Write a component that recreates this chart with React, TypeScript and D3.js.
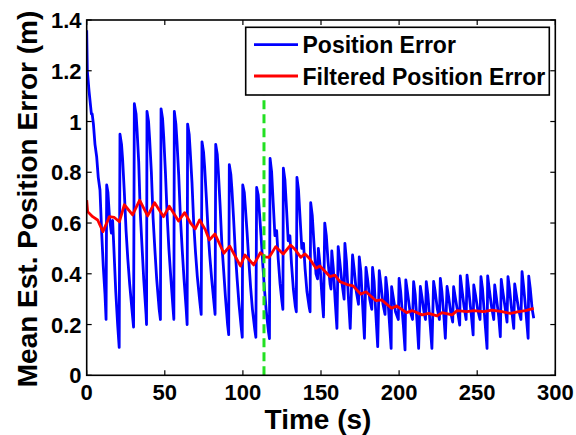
import React from "react";
import * as d3 from "d3";

// ---- data ----
const xTicks = [0, 50, 100, 150, 200, 250, 300];
const yTicks = [0, 0.2, 0.4, 0.6, 0.8, 1.0, 1.2, 1.4];
const yTickLabels = ["0", "0.2", "0.4", "0.6", "0.8", "1", "1.2", "1.4"];
const markerTime = 113.5;
const seriesNames = ["Position Error", "Filtered Position Error"];

// Position error vertices [time (s), error (m)]
const positionError: [number, number][] = [
  [0, 1.36], [0.4, 1.2], [1.5, 1.12], [3.0, 1.03], [3.5, 1.03], [4.3, 0.99], [5.3, 0.91], [6.4, 0.86], [7.4, 0.78], [8.5, 0.73], [9.6, 0.56], [10.6, 0.43], [11.7, 0.32], [12.4, 0.22],
  [12.8, 0.75], [13.6, 0.72], [14.6, 0.62], [15.8, 0.56], [16.6, 0.61], [17.4, 0.5], [18.6, 0.33], [19.8, 0.2], [20.8, 0.11],
  [21.3, 0.95], [22.3, 0.91], [23.0, 0.85], [24.1, 0.72], [25.2, 0.57], [26.3, 0.46], [27.5, 0.36], [29.1, 0.25], [30.0, 0.19],
  [30.5, 1.07], [31.6, 1.03], [32.2, 0.97], [33.3, 0.84], [34.3, 0.64], [35.4, 0.51], [36.5, 0.38], [38.0, 0.24], [38.3, 0.2],
  [38.6, 1.04], [39.6, 1.0], [40.3, 0.93], [41.4, 0.8], [42.5, 0.62], [43.6, 0.5], [44.8, 0.38], [46.4, 0.26], [47.2, 0.22],
  [47.6, 1.05], [48.6, 1.01], [49.3, 0.94], [50.4, 0.8], [51.5, 0.63], [52.6, 0.5], [53.8, 0.39], [55.2, 0.27], [55.8, 0.22],
  [56.1, 1.04], [57.1, 0.99], [57.8, 0.92], [58.9, 0.79], [60.0, 0.62], [61.1, 0.5], [62.3, 0.38], [63.7, 0.26], [64.3, 0.2],
  [64.6, 0.99], [65.6, 0.95], [66.3, 0.88], [67.4, 0.76], [68.5, 0.6], [69.6, 0.49], [70.8, 0.39], [72.4, 0.29], [73.3, 0.24],
  [73.8, 0.92], [74.8, 0.88], [75.5, 0.82], [76.6, 0.7], [77.7, 0.57], [78.8, 0.47], [80.0, 0.38], [81.4, 0.29], [82.2, 0.24],
  [82.6, 0.91], [83.6, 0.87], [84.3, 0.8], [85.4, 0.67], [86.5, 0.52], [87.6, 0.42], [88.8, 0.31], [90.2, 0.2], [90.9, 0.16],
  [91.3, 0.83], [92.3, 0.79], [93.0, 0.73], [94.1, 0.61], [95.2, 0.48], [96.3, 0.38], [97.5, 0.28], [98.9, 0.19], [99.6, 0.15],
  [99.9, 0.75], [100.9, 0.72], [101.6, 0.66], [102.7, 0.56], [103.8, 0.45], [104.9, 0.35], [106.1, 0.26], [107.6, 0.18], [108.3, 0.15],
  [108.8, 0.74], [109.8, 0.71], [110.5, 0.65], [111.6, 0.55], [112.7, 0.44], [113.8, 0.34], [115.0, 0.25], [116.4, 0.17], [117.0, 0.145],
  [117.4, 0.855], [118.4, 0.8], [119.4, 0.68], [120.5, 0.55], [121.6, 0.57], [122.6, 0.46], [123.8, 0.36], [125.0, 0.29], [125.6, 0.26],
  [125.9, 0.816], [126.9, 0.77], [127.9, 0.66], [129.0, 0.53], [130.1, 0.55], [131.1, 0.44], [132.3, 0.34], [133.6, 0.27], [134.2, 0.25],
  [134.6, 0.78], [135.6, 0.73], [136.6, 0.62], [137.7, 0.5], [138.8, 0.52], [139.8, 0.42], [141.0, 0.33], [142.4, 0.27], [143.0, 0.25],
  [143.4, 0.68], [144.4, 0.63], [145.5, 0.52], [146.8, 0.4], [147.8, 0.38], [148.3, 0.5], [149.3, 0.44], [150.5, 0.32], [151.6, 0.23],
  [152.4, 0.6], [153.4, 0.55], [154.5, 0.45], [155.8, 0.36], [156.4, 0.34], [156.9, 0.49], [157.9, 0.42], [159.1, 0.29], [160.2, 0.185],
  [161.0, 0.507], [162.0, 0.45], [163.5, 0.36], [164.8, 0.3],
  [165.3, 0.52], [166.3, 0.45], [167.6, 0.3], [168.7, 0.185],
  [170.2, 0.474], [171.2, 0.42], [172.6, 0.33], [174.0, 0.28],
  [174.5, 0.467], [175.5, 0.41], [176.8, 0.26], [177.8, 0.146],
  [178.8, 0.425], [179.8, 0.38], [181.2, 0.3], [182.5, 0.26],
  [183.0, 0.425], [184.0, 0.37], [185.3, 0.22], [186.3, 0.113],
  [187.3, 0.412], [188.3, 0.36], [189.7, 0.28], [191.0, 0.24],
  [191.5, 0.386], [192.5, 0.33], [193.9, 0.2], [194.9, 0.106],
  [195.2, 0.349], [196.2, 0.31], [197.7, 0.25], [199.5, 0.22],
  [200.0, 0.382], [201.0, 0.33], [202.7, 0.2], [203.8, 0.1],
  [204.3, 0.376], [205.3, 0.33], [206.8, 0.26], [208.6, 0.22],
  [209.3, 0.369], [210.3, 0.32], [211.6, 0.2], [212.5, 0.106],
  [213.6, 0.35], [214.6, 0.31], [215.9, 0.25], [216.9, 0.22],
  [217.4, 0.369], [218.4, 0.32], [219.9, 0.2], [221.0, 0.106],
  [222.1, 0.37], [223.1, 0.33], [224.5, 0.26], [225.8, 0.22],
  [226.4, 0.382], [227.4, 0.33], [228.7, 0.23], [229.6, 0.146],
  [230.7, 0.35], [231.7, 0.31], [233.0, 0.25], [234.3, 0.21],
  [234.9, 0.349], [235.9, 0.31], [237.5, 0.25], [238.8, 0.198],
  [239.2, 0.392], [240.2, 0.34], [241.6, 0.27], [242.9, 0.22],
  [243.5, 0.395], [244.5, 0.34], [246.2, 0.24], [247.4, 0.159],
  [247.8, 0.356], [248.8, 0.32], [250.3, 0.26], [251.8, 0.22],
  [252.4, 0.389], [253.4, 0.34], [255.0, 0.21], [256.3, 0.106],
  [256.7, 0.392], [257.7, 0.34], [259.2, 0.27], [260.6, 0.22],
  [261.2, 0.356], [262.2, 0.31], [263.8, 0.23], [264.8, 0.152],
  [265.4, 0.378], [266.4, 0.33], [267.8, 0.27], [269.1, 0.21],
  [269.7, 0.389], [270.7, 0.34], [272.2, 0.25], [273.4, 0.185],
  [274.0, 0.36], [275.0, 0.32], [276.5, 0.26], [278.0, 0.22],
  [278.7, 0.408], [279.7, 0.35], [281.2, 0.25], [282.6, 0.146],
  [283.0, 0.391], [284.0, 0.34], [285.2, 0.26], [286.2, 0.225],
];

// Filtered position error vertices [time (s), error (m)]
const filteredError: [number, number][] = [
  [0, 0.69], [0.6, 0.645], [3.8, 0.625], [7.0, 0.612], [10.4, 0.566], [14.5, 0.625], [17.7, 0.622], [20.9, 0.605],
  [24.1, 0.672], [29.4, 0.632], [33.9, 0.69], [39, 0.628], [43.5, 0.68], [49.2, 0.625], [52.9, 0.666], [58.8, 0.608],
  [62.7, 0.641], [66.5, 0.6], [69.5, 0.577], [72.3, 0.612], [76.1, 0.572], [78.5, 0.533], [82.1, 0.557], [87.8, 0.481],
  [91.6, 0.509], [98.4, 0.431], [101.3, 0.474], [106.9, 0.435], [111.2, 0.483], [114, 0.467], [116.8, 0.465], [121, 0.507],
  [125.8, 0.478], [130.5, 0.513], [133.4, 0.496], [137, 0.465], [139.8, 0.478], [142.5, 0.461], [146.8, 0.422], [149.3, 0.431],
  [155.7, 0.389], [158.9, 0.395], [162.1, 0.369], [167.5, 0.356], [170.6, 0.352], [175.4, 0.32], [178.8, 0.329], [185.2, 0.294],
  [188.8, 0.297], [195.2, 0.264], [198.4, 0.273], [204.8, 0.247], [208.3, 0.255], [214.7, 0.238], [219, 0.244], [224.3, 0.234],
  [227.5, 0.247], [233.9, 0.238], [237.1, 0.255], [243.5, 0.251], [247.8, 0.255], [254.2, 0.251], [259.5, 0.257], [265.9, 0.251],
  [271.2, 0.244], [276.6, 0.251], [280.9, 0.255], [286.2, 0.264],
];

const W = 576;
const H = 435;
const plot = { left: 86.7, right: 555.3, top: 20, bottom: 375.3 };
const FONT = "'Liberation Sans', Arial, Helvetica, sans-serif";

export default function App() {
  const x = d3.scaleLinear().domain([0, 300]).range([plot.left, plot.right]);
  const y = d3.scaleLinear().domain([0, 1.4]).range([plot.bottom, plot.top]);
  const line = d3
    .line<[number, number]>()
    .x((d) => x(d[0]))
    .y((d) => y(d[1]));

  const tickLen = 5;
  const legend = { x: 245.7, y: 27.3, w: 303.6, h: 67.7 };

  return (
    <svg
      width={W}
      height={H}
      viewBox={`0 0 ${W} ${H}`}
      style={{ position: "absolute", left: 0, top: 0, background: "#fff" }}
      fontFamily={FONT}
      fontWeight="bold"
    >
      <rect x={0} y={0} width={W} height={H} fill="#fff" />
      <defs>
        <clipPath id="plotClip">
          <rect x={plot.left} y={plot.top} width={plot.right - plot.left} height={plot.bottom - plot.top} />
        </clipPath>
      </defs>

      <g clipPath="url(#plotClip)">
        <path d={line(positionError) || ""} fill="none" stroke="#0000ff" strokeWidth={2.8} strokeLinejoin="round" />
        <path d={line(filteredError) || ""} fill="none" stroke="#ff0000" strokeWidth={2.8} strokeLinejoin="round" />
        <line
          x1={x(markerTime)}
          x2={x(markerTime)}
          y1={y(0)}
          y2={legend.y + legend.h}
          stroke="#22e022"
          strokeWidth={3}
          strokeDasharray="9,5"
        />
      </g>

      {/* ticks */}
      {xTicks.map((t) => (
        <g key={`xt${t}`}>
          <line x1={x(t)} x2={x(t)} y1={plot.bottom} y2={plot.bottom - tickLen} stroke="#000" strokeWidth={1.2} />
          <line x1={x(t)} x2={x(t)} y1={plot.top} y2={plot.top + tickLen} stroke="#000" strokeWidth={1.2} />
          <text x={x(t)} y={400} fontSize={22} textAnchor="middle" fill="#000">
            {t}
          </text>
        </g>
      ))}
      {yTicks.map((t, i) => (
        <g key={`yt${t}`}>
          <line x1={plot.left} x2={plot.left + tickLen} y1={y(t)} y2={y(t)} stroke="#000" strokeWidth={1.2} />
          <line x1={plot.right} x2={plot.right - tickLen} y1={y(t)} y2={y(t)} stroke="#000" strokeWidth={1.2} />
          <text x={81.5} y={y(t) + 8} fontSize={22} textAnchor="end" fill="#000">
            {yTickLabels[i]}
          </text>
        </g>
      ))}

      {/* frame */}
      <rect
        x={plot.left}
        y={plot.top}
        width={plot.right - plot.left}
        height={plot.bottom - plot.top}
        fill="none"
        stroke="#000"
        strokeWidth={1.6}
      />

      {/* legend */}
      <rect x={legend.x} y={legend.y} width={legend.w} height={legend.h} fill="#fff" stroke="#000" strokeWidth={1.6} />
      <line x1={254} x2={298} y1={44.7} y2={44.7} stroke="#0000ff" strokeWidth={2.8} />
      <text x={302.5} y={53.3} fontSize={23} fill="#000">
        {seriesNames[0]}
      </text>
      <line x1={254} x2={298} y1={76} y2={76} stroke="#ff0000" strokeWidth={2.8} />
      <text x={302.5} y={85} fontSize={23} fill="#000">
        {seriesNames[1]}
      </text>

      {/* axis titles */}
      <text x={318} y={429} fontSize={28} textAnchor="middle" fill="#000">
        Time (s)
      </text>
      <text transform="translate(37,199) rotate(-90)" fontSize={28} textAnchor="middle" fill="#000">
        Mean Est. Position Error (m)
      </text>
    </svg>
  );
}
